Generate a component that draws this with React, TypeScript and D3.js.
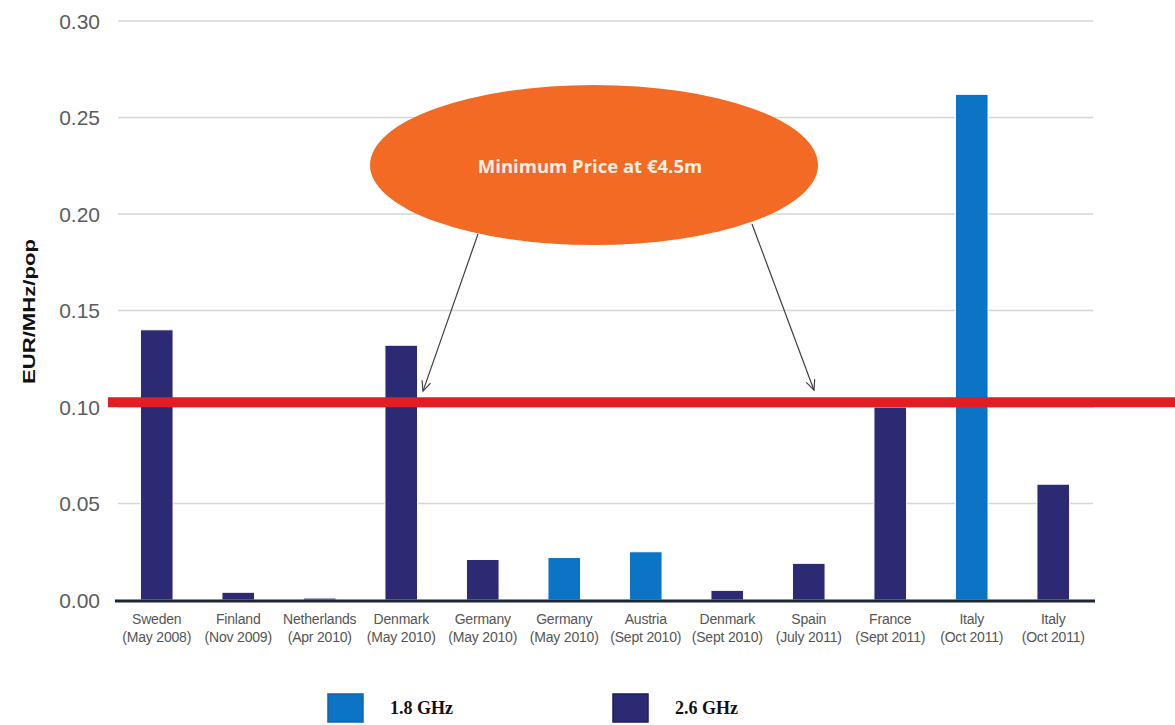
import React from "react";
import * as d3 from "d3";

// Spectrum auction prices, EUR per MHz per head of population
const countries = ["Sweden", "Finland", "Netherlands", "Denmark", "Germany", "Germany", "Austria", "Denmark", "Spain", "France", "Italy", "Italy"];
const auctionDates = ["(May 2008)", "(Nov 2009)", "(Apr 2010)", "(May 2010)", "(May 2010)", "(May 2010)", "(Sept 2010)", "(Sept 2010)", "(July 2011)", "(Sept 2011)", "(Oct 2011)", "(Oct 2011)"];
const bands = ["2.6 GHz", "2.6 GHz", "2.6 GHz", "2.6 GHz", "2.6 GHz", "1.8 GHz", "1.8 GHz", "2.6 GHz", "2.6 GHz", "2.6 GHz", "1.8 GHz", "2.6 GHz"];
const pricePerMHzPop = [0.14, 0.004, 0.001, 0.132, 0.021, 0.022, 0.025, 0.005, 0.019, 0.1, 0.262, 0.06];
const yTicks = [0, 0.05, 0.1, 0.15, 0.2, 0.25, 0.3];
const legendBands = ["1.8 GHz", "2.6 GHz"];
const minimumPrice = 0.1025;
const calloutText = "Minimum Price at €4.5m";

const W = 1175;
const H = 725;

const bandColor: Record<string, string> = {
  "1.8 GHz": "#0b74c4",
  "2.6 GHz": "#2b2a73",
};

function arrowHead(x1: number, y1: number, x2: number, y2: number, len = 11, spread = 0.42) {
  const a = Math.atan2(y2 - y1, x2 - x1);
  const p1 = [x2 - len * Math.cos(a - spread), y2 - len * Math.sin(a - spread)];
  const p2 = [x2 - len * Math.cos(a + spread), y2 - len * Math.sin(a + spread)];
  return `M${p1[0]},${p1[1]}L${x2},${y2}L${p2[0]},${p2[1]}`;
}

export default function App() {
  const idx = countries.map((_, i) => String(i));
  const x = d3.scaleBand<string>().domain(idx).range([116, 1094]).paddingInner(0.6).paddingOuter(0.3);
  const y = d3.scaleLinear().domain([0, 0.3]).range([600, 21]);

  const gridX0 = 118;
  const gridX1 = 1093;
  const refY = y(minimumPrice);

  // callout ellipse and its two pointers down to the reference line
  const ell = { cx: 594, cy: 165, rx: 224, ry: 80 };
  const arrows = [
    { x1: 478, y1: 234, x2: 423, y2: refY - 11 },
    { x1: 752, y1: 224, x2: 814, y2: refY - 12 },
  ];

  return (
    <div style={{ position: "fixed", left: 0, top: 0, width: W, height: H, background: "#fff" }}>
      <svg width={W} height={H} style={{ display: "block" }}>
        <rect width={W} height={H} fill="#fff" />

        {/* gridlines */}
        {yTicks.filter((t) => t > 0).map((t) => (
          <line key={t} x1={gridX0} x2={gridX1} y1={y(t)} y2={y(t)} stroke="#d6d6d6" strokeWidth={1.5} />
        ))}

        {/* y tick labels */}
        {yTicks.map((t) => (
          <text
            key={"l" + t}
            x={100}
            y={y(t)}
            dy="0.36em"
            textAnchor="end"
            fontFamily="Liberation Sans, Arial, sans-serif"
            fontSize={21}
            fill="#5c5c5c"
          >
            {t.toFixed(2)}
          </text>
        ))}

        {/* y axis title */}
        <text
          transform={`translate(35,${y(0.15) + 1}) rotate(-90)`}
          textAnchor="middle"
          fontFamily="Liberation Sans, Arial, sans-serif"
          fontWeight="bold"
          fontSize={17}
          textLength={145}
          lengthAdjust="spacingAndGlyphs"
          fill="#111"
        >
          EUR/MHz/pop
        </text>

        {/* bars */}
        {pricePerMHzPop.map((v, i) => (
          <rect
            key={"b" + i}
            x={x(String(i))!}
            y={y(v)}
            width={x.bandwidth()}
            height={y(0) - y(v)}
            fill={bandColor[bands[i]]}
            stroke="#fff"
            strokeWidth={1}
          />
        ))}

        {/* baseline */}
        <line x1={115} x2={1095} y1={y(0) + 1} y2={y(0) + 1} stroke="#1d2733" strokeWidth={3} />

        {/* category labels */}
        {countries.map((c, i) => {
          const cx = x(String(i))! + x.bandwidth() / 2;
          return (
            <text
              key={"c" + i}
              x={cx}
              textAnchor="middle"
              fontFamily="Liberation Sans, Arial, sans-serif"
              fontSize={14}
              letterSpacing={-0.2}
              fill="#555"
            >
              <tspan x={cx} y={624}>{c}</tspan>
              <tspan x={cx} y={642}>{auctionDates[i]}</tspan>
            </text>
          );
        })}

        {/* minimum price reference line */}
        <line x1={108} x2={W} y1={refY} y2={refY} stroke="#e31d24" strokeWidth={10} />

        {/* callout */}
        <ellipse cx={ell.cx} cy={ell.cy} rx={ell.rx} ry={ell.ry} fill="#f26a23" />
        <text
          x={ell.cx - 4}
          y={ell.cy + 2}
          dy="0.35em"
          textAnchor="middle"
          fontFamily="Open Sans, Noto Sans, sans-serif"
          fontWeight="bold"
          fontSize={18.5}
          fill="#fbeee2"
        >
          {calloutText}
        </text>
        {arrows.map((a, i) => (
          <g key={"a" + i} stroke="#3f3f3f" strokeWidth={1.2} fill="none">
            <line x1={a.x1} y1={a.y1} x2={a.x2} y2={a.y2} />
            <path d={arrowHead(a.x1, a.y1, a.x2, a.y2)} />
          </g>
        ))}

        {/* legend */}
        {legendBands.map((b, i) => {
          const lx = i === 0 ? 328 : 613;
          return (
            <g key={"lg" + i}>
              <rect x={lx} y={694} width={35} height={28} fill={bandColor[b]} stroke={i === 0 ? "#1760a8" : "#1b1f5c"} strokeWidth={1.5} />
              <text
                x={lx + 62}
                y={708}
                dy="0.35em"
                fontFamily="Liberation Serif, Times New Roman, serif"
                fontWeight="bold"
                fontSize={18}
                fill="#111"
              >
                {b}
              </text>
            </g>
          );
        })}
      </svg>
    </div>
  );
}
